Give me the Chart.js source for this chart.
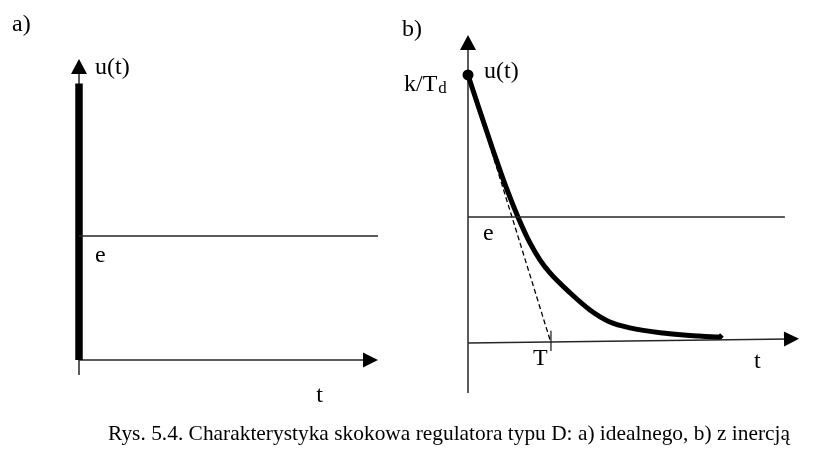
<!DOCTYPE html>
<html><head><meta charset="utf-8">
<script src="https://cdn.jsdelivr.net/npm/chart.js@4/dist/chart.umd.min.js"></script>
<style>
html,body{margin:0;padding:0;background:#fff;overflow:hidden}
#wrap{position:relative;width:831px;height:476px;background:#fff}
canvas{position:absolute;left:0;top:0}
</style></head><body>
<div id="wrap"><canvas id="ca" width="831" height="476"></canvas><canvas id="cb" width="831" height="476"></canvas></div>
<script>
// ---------- Panel a) ideal D controller ----------
const aStepTime   = [0, 0];
const aStepValues = [0, 2.23];
const aELevel     = 1;
const aELineEnd   = 3.6;
const aXMax = 3.6, aYMin = -0.121, aYMax = 2.427;

// ---------- Panel b) D controller with inertia ----------
const bTime   = [0, 0.139, 0.301, 0.458, 0.602, 0.747, 0.867, 0.988, 1.229, 1.47, 1.711, 1.952, 2.349, 2.759, 3.036, 3.06];
const bValues = [1.0, 0.869, 0.72, 0.582, 0.47, 0.373, 0.31, 0.261, 0.187, 0.123, 0.078, 0.056, 0.037, 0.026, 0.022, 0.03];
const bTangentTime   = [0, 1];
const bTangentValues = [1, 0];
const bELevel   = 0.47;
const bELineEnd = 3.82;
const bTMark    = 1;
const bXMax = 3.99, bYMin = -0.187, bYMax = 1.149, bAxisLift = 0.015;

const caption = 'Rys. 5.4. Charakterystyka skokowa regulatora typu D: a) idealnego, b) z inercją';

const INK = '#000';
const LINE = '#262626';
const SERIF = '"Liberation Serif", "DejaVu Serif", serif';

function pts(xs, ys){ return xs.map((x,i)=>({x:x, y:ys[i]})); }

function arrowHead(ctx, x, y, dx, dy, len, half){
  const n = Math.hypot(dx,dy); dx/=n; dy/=n;
  const bx = x - dx*len, by = y - dy*len;
  ctx.beginPath();
  ctx.moveTo(x,y);
  ctx.lineTo(bx - dy*half, by + dx*half);
  ctx.lineTo(bx + dy*half, by - dx*half);
  ctx.closePath();
  ctx.fillStyle = INK; ctx.fill();
}

function txt(ctx, s, x, y, size, maxW){
  ctx.font = size + 'px ' + SERIF;
  ctx.fillStyle = INK;
  ctx.textBaseline = 'alphabetic';
  ctx.textAlign = 'left';
  if (maxW) ctx.fillText(s, x, y, maxW); else ctx.fillText(s, x, y);
}

function baseOpts(pad, xMax, yMin, yMax){
  return {
    responsive:false, animation:false, devicePixelRatio:1,
    layout:{padding:pad},
    plugins:{legend:{display:false}, tooltip:{enabled:false}, title:{display:false}},
    scales:{
      x:{type:'linear', min:0, max:xMax, display:false},
      y:{type:'linear', min:yMin, max:yMax, display:false}
    },
    elements:{point:{radius:0}}
  };
}

const FS = 24;

const axesA = {
  id:'axesA',
  beforeDatasetsDraw(chart){
    const ctx = chart.ctx, xs = chart.scales.x, ys = chart.scales.y;
    const x0 = xs.getPixelForValue(0), y0 = ys.getPixelForValue(0);
    const yTop = ys.getPixelForValue(aYMax), yBot = ys.getPixelForValue(aYMin);
    const xEnd = xs.getPixelForValue(aXMax);
    ctx.save();
    ctx.strokeStyle = LINE; ctx.lineWidth = 1.5;
    ctx.beginPath(); ctx.moveTo(x0, yBot); ctx.lineTo(x0, yTop + 10); ctx.stroke();
    ctx.beginPath(); ctx.moveTo(x0, y0); ctx.lineTo(xEnd - 10, y0); ctx.stroke();
    arrowHead(ctx, x0, yTop, 0, -1, 15, 8);
    arrowHead(ctx, xEnd, y0, 1, 0, 15, 7.5);
    ctx.restore();
  },
  afterDraw(chart){
    const ctx = chart.ctx, xs = chart.scales.x, ys = chart.scales.y;
    ctx.save();
    txt(ctx, 'a)', 12, 31, FS);
    txt(ctx, 'u(t)', xs.getPixelForValue(0) + 16, 74, FS);
    txt(ctx, 'e', xs.getPixelForValue(0) + 16, ys.getPixelForValue(aELevel) + 26, FS);
    txt(ctx, 't', xs.getPixelForValue(aXMax*0.8) - 2, 402, FS);
    txt(ctx, caption, 108, 440, 22, 682);
    ctx.restore();
  }
};

new Chart(document.getElementById('ca'), {
  type:'scatter',
  data:{datasets:[
    {data:pts([0, aELineEnd], [aELevel, aELevel]), showLine:true, borderColor:LINE, borderWidth:1.5, pointRadius:0, clip:false},
    {data:pts(aStepTime, aStepValues), showLine:true, borderColor:INK, borderWidth:7.5, borderCapStyle:'butt', pointRadius:0, clip:false}
  ]},
  options: baseOpts({left:79, right:831-378, top:59, bottom:476-375}, aXMax, aYMin, aYMax),
  plugins:[axesA]
});

const axesB = {
  id:'axesB',
  beforeDatasetsDraw(chart){
    const ctx = chart.ctx, xs = chart.scales.x, ys = chart.scales.y;
    const x0 = xs.getPixelForValue(0), y0 = ys.getPixelForValue(0);
    const yTop = ys.getPixelForValue(bYMax), yBot = ys.getPixelForValue(bYMin);
    const xEnd = xs.getPixelForValue(bXMax), yEnd = ys.getPixelForValue(bAxisLift);
    ctx.save();
    ctx.strokeStyle = LINE; ctx.lineWidth = 1.5;
    ctx.beginPath(); ctx.moveTo(x0, yBot); ctx.lineTo(x0, yTop + 10); ctx.stroke();
    ctx.beginPath(); ctx.moveTo(x0, y0); ctx.lineTo(xEnd - 10, yEnd + (y0-yEnd)*10/(xEnd-x0)); ctx.stroke();
    arrowHead(ctx, x0, yTop, 0, -1, 15, 8);
    arrowHead(ctx, xEnd, yEnd, xEnd-x0, yEnd-y0, 15, 7.5);
    ctx.restore();
  },
  afterDraw(chart){
    const ctx = chart.ctx, xs = chart.scales.x, ys = chart.scales.y;
    const x0 = xs.getPixelForValue(0);
    ctx.save();
    txt(ctx, 'b)', 402, 36, FS);
    txt(ctx, 'k/T', 404, 91, FS);
    const w = ctx.measureText('k/T').width;
    txt(ctx, 'd', 404 + w + 1, 93, 17);
    txt(ctx, 'u(t)', x0 + 16, 78, FS);
    txt(ctx, 'e', x0 + 15, ys.getPixelForValue(bELevel) + 23, FS);
    txt(ctx, 'T', xs.getPixelForValue(bTMark) - 18, 365, FS);
    txt(ctx, 't', xs.getPixelForValue(bXMax) - 45, 368, FS);
    ctx.restore();
  }
};

new Chart(document.getElementById('cb'), {
  type:'scatter',
  data:{datasets:[
    {data:pts([0, bELineEnd], [bELevel, bELevel]), showLine:true, borderColor:LINE, borderWidth:1.5, pointRadius:0, clip:false},
    {data:pts([bTMark, bTMark], [0.045, -0.03]), showLine:true, borderColor:LINE, borderWidth:1.3, pointRadius:0, clip:false},
    {data:pts(bTangentTime, bTangentValues), showLine:true, borderColor:INK, borderWidth:1.3, borderDash:[5,3], pointRadius:0, clip:false},
    {data:pts(bTime, bValues), showLine:true, borderColor:INK, borderWidth:5, cubicInterpolationMode:'monotone', borderCapStyle:'butt', borderJoinStyle:'round', clip:false,
      pointRadius: bTime.map((t,i)=> i===0 ? 5.5 : 0), pointBackgroundColor:INK, pointBorderColor:INK, pointBorderWidth:0}
  ]},
  options: baseOpts({left:468, right:831-799, top:35, bottom:476-393}, bXMax, bYMin, bYMax),
  plugins:[axesB]
});
</script>
</body></html>
